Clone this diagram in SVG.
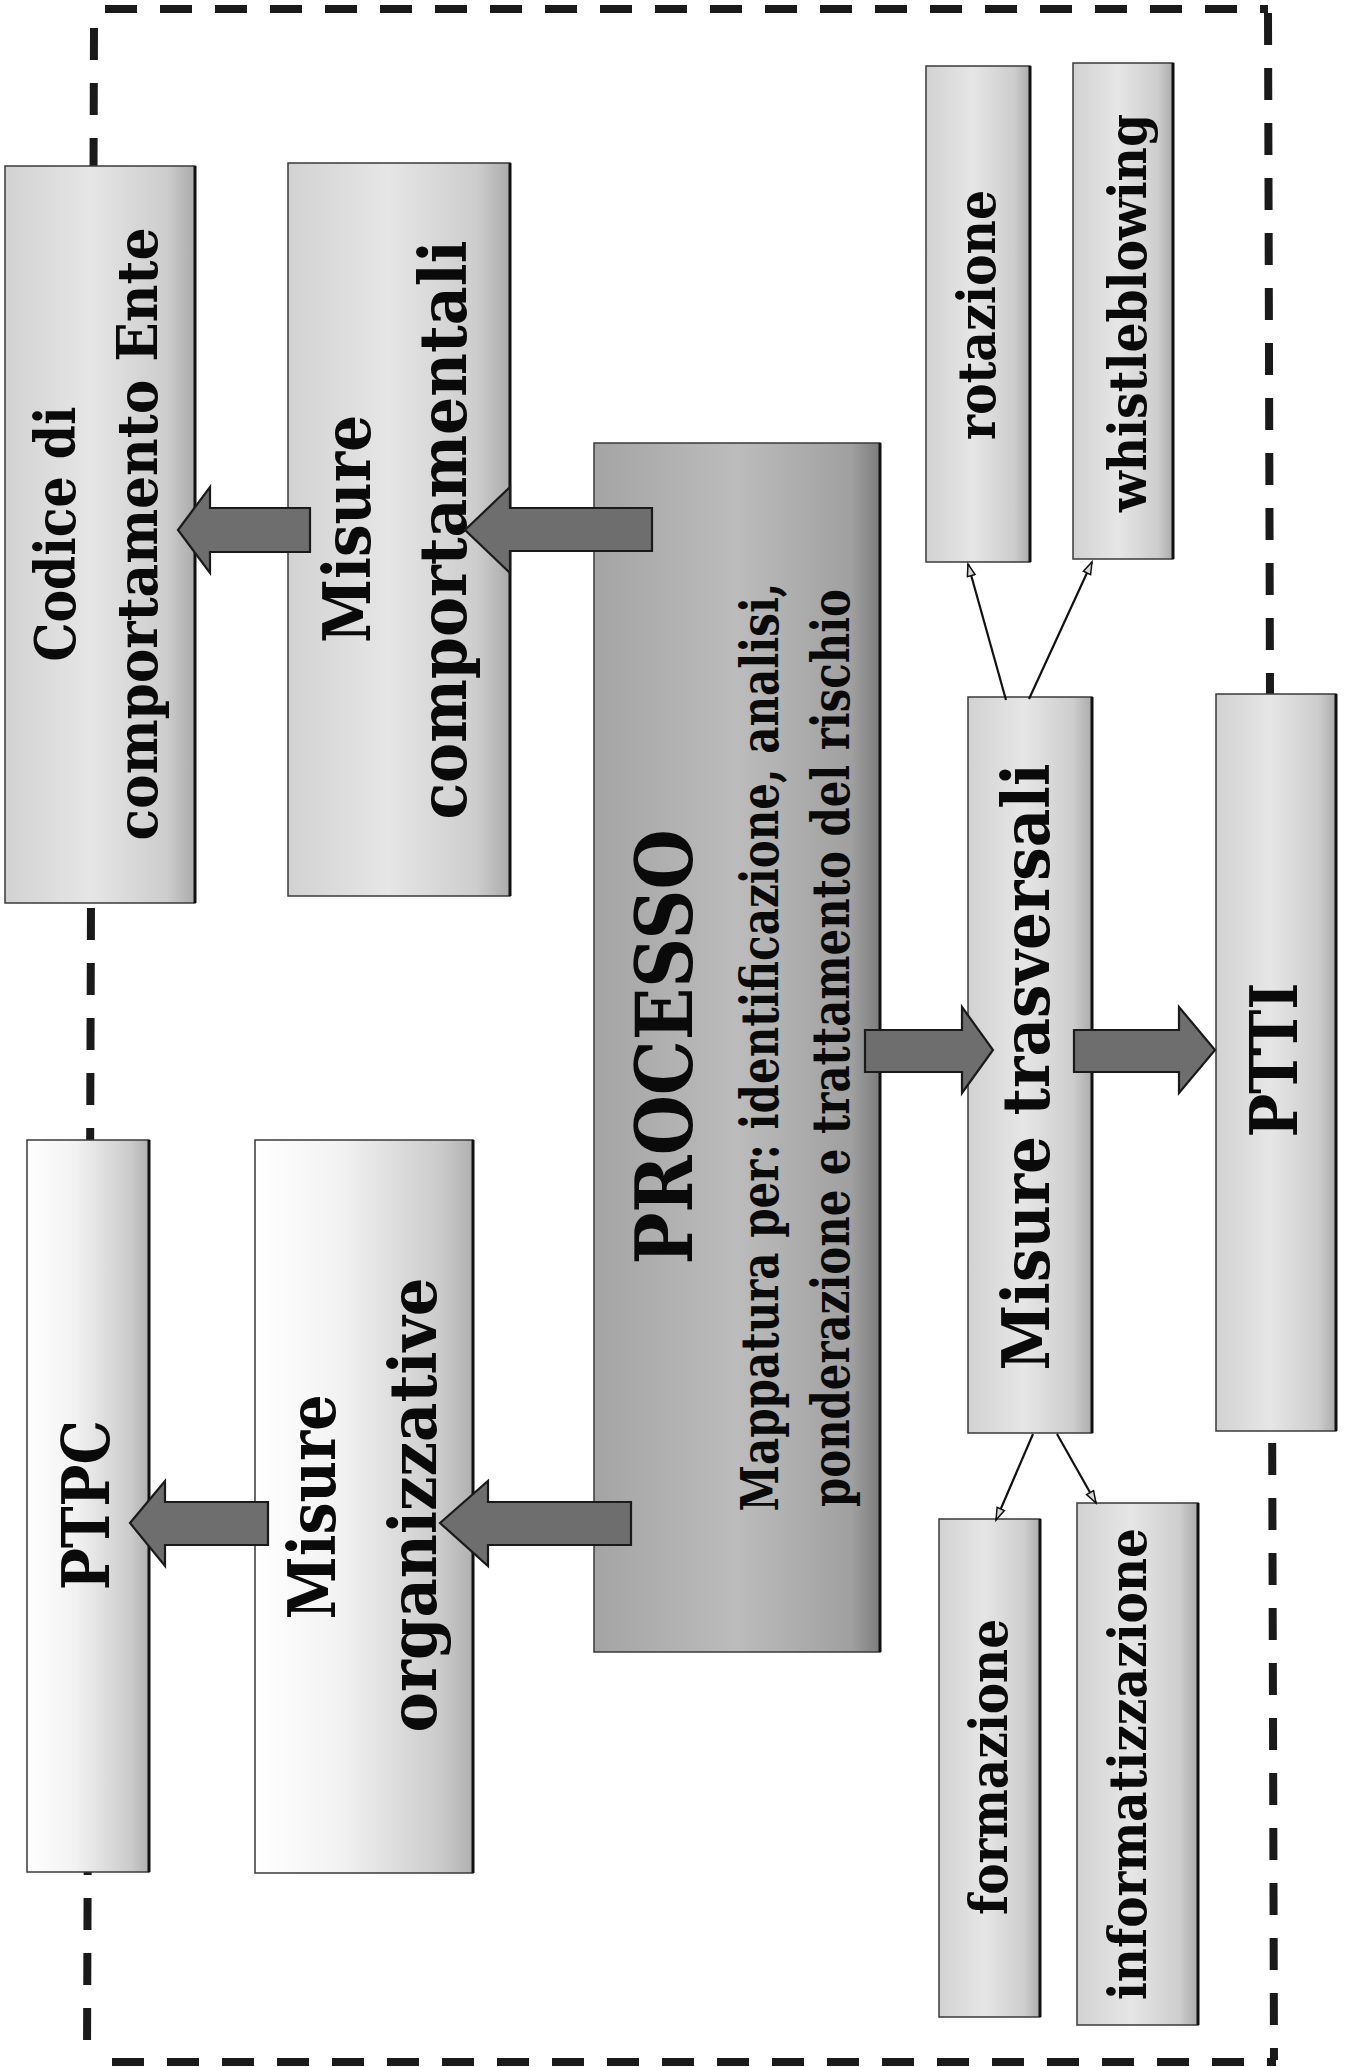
<svg xmlns="http://www.w3.org/2000/svg" width="1351" height="2067" viewBox="0 0 1351 2067">
<defs>
<style>
.lbl{font-family:"DejaVu Serif","Liberation Serif",serif;font-weight:bold;fill:#0a0a0a;text-anchor:middle}
.box{stroke:#3a3a3a;stroke-width:1.5}
.edge{stroke:#111;stroke-width:3}
.border{fill:none;stroke:#1a1a1a;stroke-width:8;stroke-dasharray:32 23}
.block{fill:#6e6e6e;stroke:#1a1a1a;stroke-width:2.2;stroke-linejoin:miter}
.thin{fill:none;stroke:#111;stroke-width:2.2}
</style>
<linearGradient id="gLight" x1="0" y1="0" x2="1" y2="0">
<stop offset="0" stop-color="#d2d2d2"/>
<stop offset="0.45" stop-color="#e6e6e6"/>
<stop offset="0.85" stop-color="#cdcdcd"/>
<stop offset="1" stop-color="#ababab"/>
</linearGradient>
<linearGradient id="gWhite" x1="0" y1="0" x2="1" y2="0">
<stop offset="0" stop-color="#ffffff"/>
<stop offset="0.4" stop-color="#f2f2f2"/>
<stop offset="0.85" stop-color="#cbcbcb"/>
<stop offset="1" stop-color="#b0b0b0"/>
</linearGradient>
<linearGradient id="gDark" x1="0" y1="0" x2="1" y2="0">
<stop offset="0" stop-color="#a4a4a4"/>
<stop offset="0.5" stop-color="#bcbcbc"/>
<stop offset="0.9" stop-color="#a0a0a0"/>
<stop offset="1" stop-color="#7c7c7c"/>
</linearGradient>
<marker id="hollow" markerUnits="userSpaceOnUse" markerWidth="16" markerHeight="12" refX="13" refY="5" orient="auto">
<path d="M1,1 L13,5 L1,9 z" fill="#d8d8d8" stroke="#111" stroke-width="1.5"/>
</marker>
</defs>

<g id="frame">
<line class="border" x1="105" y1="9" x2="1268" y2="9"/>
<line class="border" x1="1268" y1="13" x2="1274" y2="2060"/>
<line class="border" x1="112" y1="2062" x2="1276" y2="2062"/>
<line class="border" x1="94" y1="28" x2="87" y2="2060"/>
</g>

<g id="node-codice">
<rect class="box" x="5" y="166" width="190" height="737" fill="url(#gLight)"/>
<line class="edge" x1="195" y1="166" x2="195" y2="903"/>
<text class="lbl" font-size="56" textLength="255" lengthAdjust="spacingAndGlyphs" transform="translate(75,534) rotate(-90)">Codice di</text>
<text class="lbl" font-size="56" textLength="613" lengthAdjust="spacingAndGlyphs" transform="translate(157,534) rotate(-90)">comportamento Ente</text>
</g>

<g id="node-misure-comportamentali">
<rect class="box" x="288" y="163" width="222" height="733" fill="url(#gLight)"/>
<line class="edge" x1="510" y1="163" x2="510" y2="896"/>
<text class="lbl" font-size="66" textLength="228" lengthAdjust="spacingAndGlyphs" transform="translate(370,529) rotate(-90)">Misure</text>
<text class="lbl" font-size="66" textLength="579" lengthAdjust="spacingAndGlyphs" transform="translate(466,530) rotate(-90)">comportamentali</text>
</g>

<g id="node-processo">
<rect class="box" x="594" y="443" width="286" height="1209" fill="url(#gDark)"/>
<line class="edge" x1="880" y1="443" x2="880" y2="1652"/>
<text class="lbl" font-size="78" textLength="435" lengthAdjust="spacingAndGlyphs" transform="translate(692,1047) rotate(-90)">PROCESSO</text>
<text class="lbl" font-size="52" textLength="929" lengthAdjust="spacingAndGlyphs" transform="translate(778,1047) rotate(-90)">Mappatura per: identificazione, analisi,</text>
<text class="lbl" font-size="52" textLength="918" lengthAdjust="spacingAndGlyphs" transform="translate(849,1048) rotate(-90)">ponderazione e trattamento del rischio</text>
</g>

<g id="node-misure-trasversali">
<rect class="box" x="968" y="697" width="124" height="736" fill="url(#gLight)"/>
<line class="edge" x1="1092" y1="697" x2="1092" y2="1433"/>
<text class="lbl" font-size="66" textLength="607" lengthAdjust="spacingAndGlyphs" transform="translate(1049,1067) rotate(-90)">Misure trasversali</text>
</g>

<g id="node-ptti">
<rect class="box" x="1216" y="694" width="120" height="737" fill="url(#gLight)"/>
<line class="edge" x1="1336" y1="694" x2="1336" y2="1431"/>
<text class="lbl" font-size="66" textLength="155" lengthAdjust="spacingAndGlyphs" transform="translate(1297,1060) rotate(-90)">PTTI</text>
</g>

<g id="node-ptpc">
<rect class="box" x="27" y="1140" width="122" height="732" fill="url(#gWhite)"/>
<line class="edge" x1="149" y1="1140" x2="149" y2="1872"/>
<text class="lbl" font-size="66" textLength="170" lengthAdjust="spacingAndGlyphs" transform="translate(109,1505) rotate(-90)">PTPC</text>
</g>

<g id="node-misure-organizzative">
<rect class="box" x="255" y="1140" width="218" height="733" fill="url(#gWhite)"/>
<line class="edge" x1="473" y1="1140" x2="473" y2="1873"/>
<text class="lbl" font-size="66" textLength="225" lengthAdjust="spacingAndGlyphs" transform="translate(335,1507) rotate(-90)">Misure</text>
<text class="lbl" font-size="66" textLength="455" lengthAdjust="spacingAndGlyphs" transform="translate(436,1505) rotate(-90)">organizzative</text>
</g>

<g id="node-rotazione">
<rect class="box" x="926" y="66" width="104" height="496" fill="url(#gLight)"/>
<line class="edge" x1="1030" y1="66" x2="1030" y2="562"/>
<text class="lbl" font-size="52" textLength="250" lengthAdjust="spacingAndGlyphs" transform="translate(995,315) rotate(-90)">rotazione</text>
</g>

<g id="node-whistleblowing">
<rect class="box" x="1073" y="63" width="100" height="496" fill="url(#gLight)"/>
<line class="edge" x1="1173" y1="63" x2="1173" y2="559"/>
<text class="lbl" font-size="52" textLength="398" lengthAdjust="spacingAndGlyphs" transform="translate(1146,313) rotate(-90)">whistleblowing</text>
</g>

<g id="node-formazione">
<rect class="box" x="939" y="1519" width="101" height="498" fill="url(#gLight)"/>
<line class="edge" x1="1040" y1="1519" x2="1040" y2="2017"/>
<text class="lbl" font-size="52" textLength="296" lengthAdjust="spacingAndGlyphs" transform="translate(1007,1767) rotate(-90)">formazione</text>
</g>

<g id="node-informatizzazione">
<rect class="box" x="1077" y="1503" width="121" height="522" fill="url(#gLight)"/>
<line class="edge" x1="1198" y1="1503" x2="1198" y2="2025"/>
<text class="lbl" font-size="52" textLength="472" lengthAdjust="spacingAndGlyphs" transform="translate(1146,1764) rotate(-90)">informatizzazione</text>
</g>

<g id="connectors">
<polygon class="block" points="178,530 210,487 210,508 310,508 310,552 210,552 210,573"/>
<polygon class="block" points="465,530 510,487 510,508 652,508 652,551 510,551 510,573"/>
<polygon class="block" points="865,1030 962,1030 962,1007 993,1050 962,1093 962,1072 865,1072"/>
<polygon class="block" points="1074,1030 1179,1030 1179,1007 1215,1050 1179,1093 1179,1072 1074,1072"/>
<polygon class="block" points="130,1523 165,1481 165,1502 268,1502 268,1545 165,1545 165,1566"/>
<polygon class="block" points="440,1523 488,1481 488,1502 631,1502 631,1545 488,1545 488,1566"/>
<line class="thin" x1="1006" y1="700" x2="968" y2="564" marker-end="url(#hollow)"/>
<line class="thin" x1="1029" y1="699" x2="1092" y2="562" marker-end="url(#hollow)"/>
<line class="thin" x1="1033" y1="1434" x2="996" y2="1520" marker-end="url(#hollow)"/>
<line class="thin" x1="1057" y1="1434" x2="1096" y2="1503" marker-end="url(#hollow)"/>
</g>
</svg>
